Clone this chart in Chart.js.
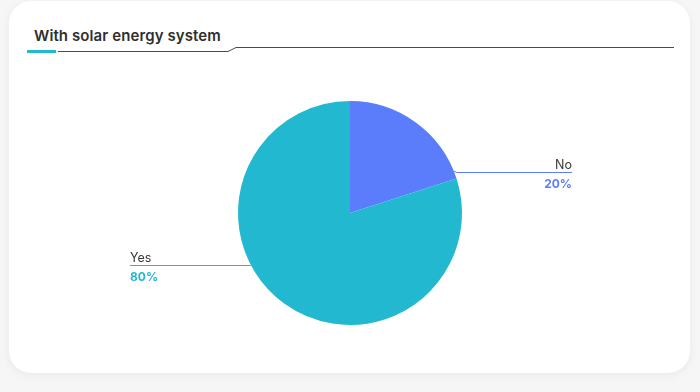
<!DOCTYPE html>
<html><head><meta charset="utf-8">
<script src="https://cdn.jsdelivr.net/npm/chart.js@4"></script>
<style>
html,body{margin:0;padding:0;background:#f6f6f6;width:700px;height:392px;overflow:hidden;}
#card{position:absolute;left:9px;top:1px;width:681px;height:372px;background:#fff;border-radius:22px;box-shadow:0 2px 10px rgba(0,0,0,0.06);}
#title{position:absolute;left:34px;top:26px;font-family:Inter,"Open Sans",sans-serif;font-weight:600;font-size:15px;color:#2f2f2f;letter-spacing:0.1px;}
#wrap{position:absolute;left:0;top:0;width:700px;height:392px;}
</style></head>
<body>
<div id="card"></div>
<div id="title">With solar energy system</div>
<div id="wrap"><canvas id="c" width="700" height="392"></canvas></div>
<script>
const categories = ["No", "Yes"];
const values = [20, 80];
const percentLabels = ["20%", "80%"];
const colors = ["#5b7dfb", "#22b8d0"];

const headerPlugin = {
  id: 'header',
  beforeDraw(chart) {
    const ctx = chart.ctx;
    ctx.save();
    ctx.fillStyle = '#22b8d0';
    ctx.fillRect(27, 50, 29, 3);
    ctx.strokeStyle = '#4a4a4a';
    ctx.lineWidth = 1;
    ctx.beginPath();
    ctx.moveTo(58, 51.5);
    ctx.lineTo(228, 51.5);
    ctx.lineTo(236, 47.5);
    ctx.lineTo(674, 47.5);
    ctx.stroke();
    ctx.restore();
  }
};

const labelPlugin = {
  id: 'sliceLabels',
  afterDraw(chart, args, opts) {
    const ctx = chart.ctx;
    const meta = chart.getDatasetMeta(0);
    meta.data.forEach((arc, i) => {
      const cx = arc.x, cy = arc.y, r = arc.outerRadius;
      const a = opts.angles[i] * Math.PI / 180 - Math.PI / 2;
      const px = cx + Math.cos(a) * r, py = cy + Math.sin(a) * r;
      const right = Math.cos(a) > 0;
      const ly = opts.lineY[i];
      const endX = right ? cx + opts.reach[i] : cx - opts.reach[i];
      const kx = right ? px + 3 : px - 3;
      ctx.save();
      ctx.strokeStyle = colors[i];
      ctx.lineWidth = 1;
      ctx.beginPath();
      ctx.moveTo(px, py);
      ctx.lineTo(kx, ly + 0.5);
      ctx.lineTo(endX, ly + 0.5);
      ctx.stroke();
      ctx.textAlign = right ? 'right' : 'left';
      ctx.textBaseline = 'alphabetic';
      ctx.font = '400 12.5px Inter, "Open Sans", sans-serif';
      ctx.fillStyle = '#3a3a3a';
      ctx.fillText(categories[i], endX, ly - 3);
      ctx.font = '700 12px Inter, "Open Sans", sans-serif';
      ctx.fillStyle = colors[i];
      ctx.fillText(percentLabels[i], endX, ly + 16);
      ctx.restore();
    });
  }
};

new Chart(document.getElementById('c'), {
  type: 'pie',
  data: {
    labels: categories,
    datasets: [{ data: values, backgroundColor: colors, borderWidth: 0 }]
  },
  options: {
    responsive: false,
    animation: false,
    layout: { padding: { top: 101, bottom: 67, left: 0, right: 0 } },
    plugins: {
      legend: { display: false },
      tooltip: { enabled: false },
      sliceLabels: { angles: [68, 242], lineY: [172, 265], reach: [222, 220] }
    }
  },
  plugins: [headerPlugin, labelPlugin]
});
</script>
</body></html>
